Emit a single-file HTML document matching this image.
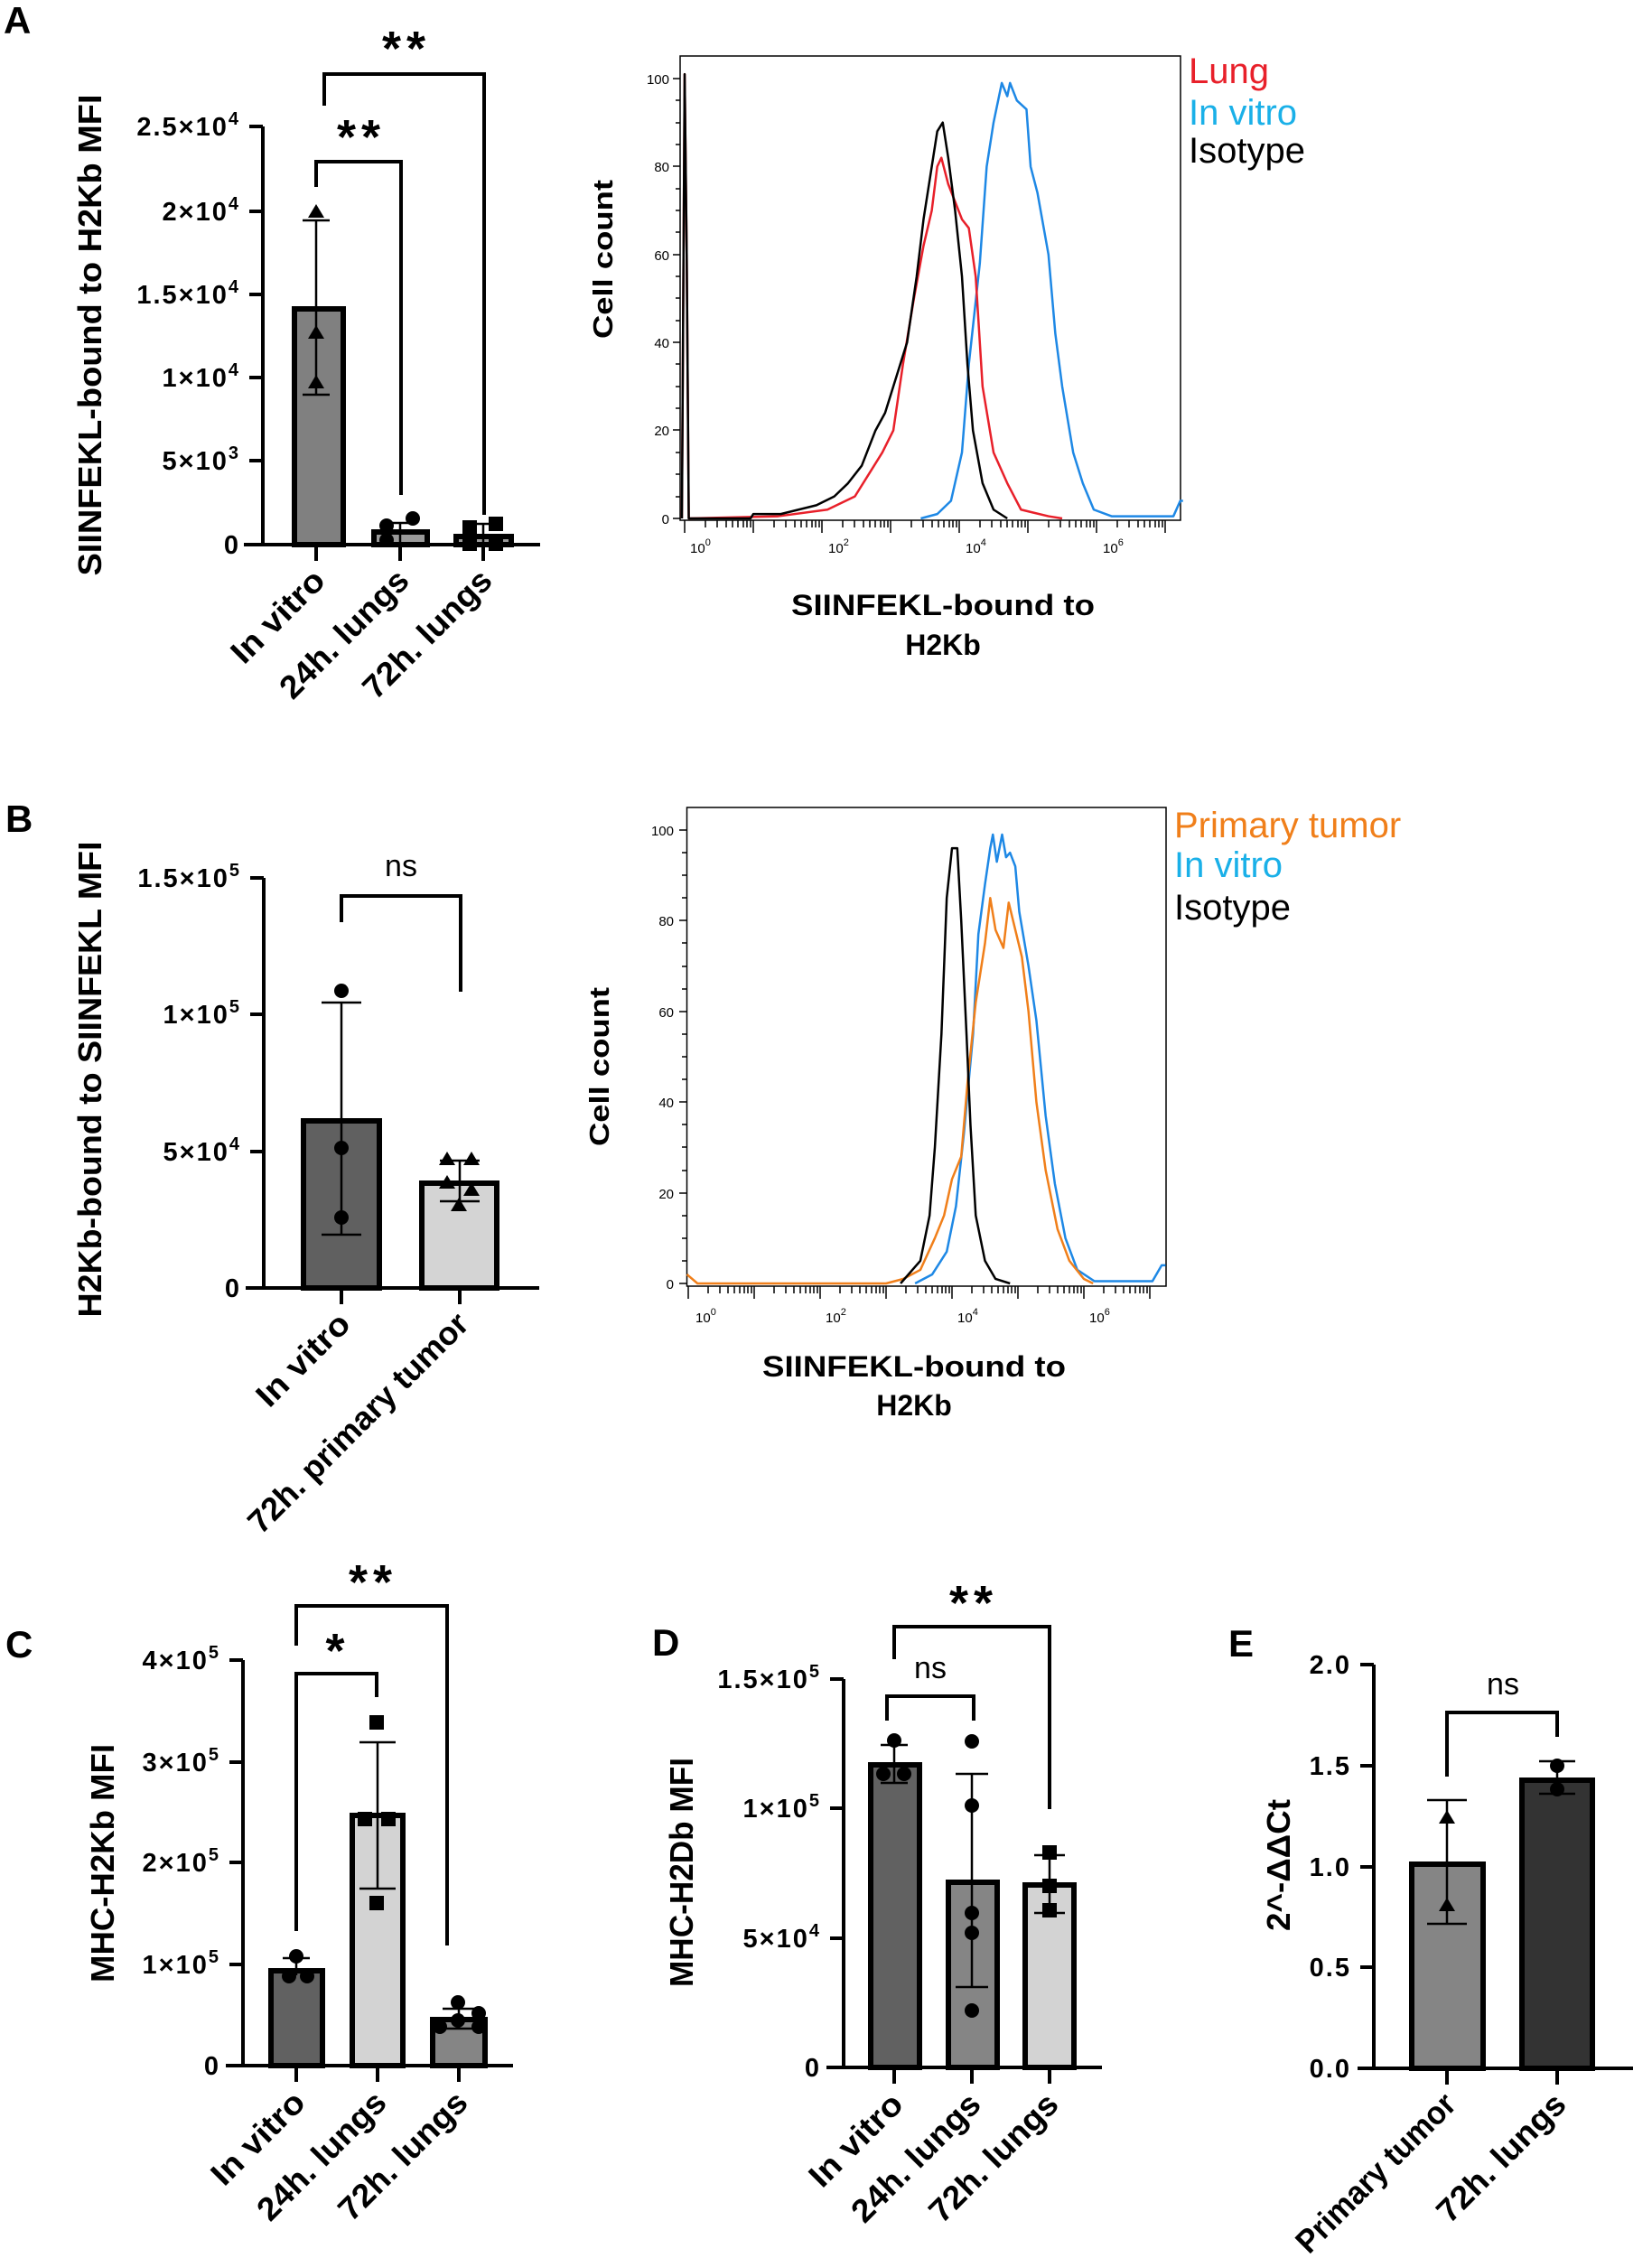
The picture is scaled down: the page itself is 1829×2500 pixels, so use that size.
<!DOCTYPE html>
<html><head><meta charset="utf-8"><style>
html,body{margin:0;padding:0;background:#fff}
svg{display:block}
text{font-family:"Liberation Sans",Arial,sans-serif}
.b{font-weight:bold}
.tk{font-weight:bold;font-size:29px;letter-spacing:2px}
.sup{font-size:20px}
.cat{font-weight:bold;font-size:36px}
.yl{font-weight:bold;font-size:36px}
.pl{font-weight:bold;font-size:42px}
.st{font-weight:bold;font-size:54px;letter-spacing:6px}
.ns{font-size:34px}
.ht{font-size:15px}
.leg{font-size:40px}
.hx{font-weight:bold;font-size:32px}
</style></head><body>
<svg width="1829" height="2500" viewBox="0 0 1829 2500" xmlns="http://www.w3.org/2000/svg">
<rect width="1829" height="2500" fill="#fff"/>

<!-- Panel labels -->
<text class="pl" x="4" y="37">A</text>
<text class="pl" x="6" y="921">B</text>
<text class="pl" x="6" y="1835">C</text>
<text class="pl" x="722" y="1833">D</text>
<text class="pl" x="1360" y="1834">E</text>

<!-- ============ A bar ============ -->
<g stroke="#000" fill="none" stroke-width="4">
<path d="M291,140 V603 M270,603 H598"/>
<path d="M276,140H291 M276,234H291 M276,326H291 M276,418H291 M276,510H291"/>
<path d="M350,603V621 M443,603V621 M535,603V621"/>
<path d="M359,117V82H536V570 M350,207V179H444V548"/>
</g>
<g class="tk" text-anchor="end">
<text x="266" y="150">2.5×10<tspan class="sup" dy="-12">4</tspan></text>
<text x="266" y="244">2×10<tspan class="sup" dy="-12">4</tspan></text>
<text x="266" y="336">1.5×10<tspan class="sup" dy="-12">4</tspan></text>
<text x="266" y="428">1×10<tspan class="sup" dy="-12">4</tspan></text>
<text x="266" y="520">5×10<tspan class="sup" dy="-12">3</tspan></text>
<text x="266" y="613">0</text>
</g>
<text class="yl" transform="translate(112,371) rotate(-90)" text-anchor="middle" textLength="533" lengthAdjust="spacingAndGlyphs">SIINFEKL-bound to H2Kb MFI</text>
<rect x="326" y="342" width="54" height="261" fill="#808080" stroke="#000" stroke-width="6"/>
<rect x="414" y="589" width="59" height="14" fill="#9a9a9a" stroke="#000" stroke-width="6"/>
<rect x="505" y="594" width="61" height="9" fill="#9a9a9a" stroke="#000" stroke-width="6"/>
<g stroke="#000" stroke-width="2.5">
<path d="M350,244V437 M335,244H365 M335,437H365"/>
<path d="M443,579V603 M430,579H456"/>
<path d="M535,580V603 M520,580H550"/>
</g>
<g fill="#000">
<path d="M350,226l9,15h-18z M350,360l9,15h-18z M350,415l9,15h-18z"/>
<circle cx="428" cy="582" r="8"/><circle cx="457" cy="574" r="8"/><circle cx="428" cy="598" r="8"/>
<rect x="512" y="576" width="16" height="16"/><rect x="541" y="572" width="16" height="16"/><rect x="512" y="594" width="16" height="16"/><rect x="541" y="594" width="16" height="16"/>
</g>
<text class="st" x="450" y="72" text-anchor="middle">**</text>
<text class="st" x="400" y="170" text-anchor="middle">**</text>
<g class="cat" text-anchor="end">
<text transform="translate(362,645) rotate(-45)" textLength="130" lengthAdjust="spacingAndGlyphs">In vitro</text>
<text transform="translate(455,645) rotate(-45)" textLength="185" lengthAdjust="spacingAndGlyphs">24h. lungs</text>
<text transform="translate(547,645) rotate(-45)" textLength="185" lengthAdjust="spacingAndGlyphs">72h. lungs</text>
</g>

<!-- ============ A histogram ============ -->
<rect x="753" y="62" width="554" height="514" fill="none" stroke="#000" stroke-width="1.5"/>
<g stroke="#000" stroke-width="1.5">
<path d="M753,574h-8 M753,476h-8 M753,379h-8 M753,282h-8 M753,184h-8 M753,87h-8"/>
<path d="M753,550h-5 M753,525h-5 M753,501h-5 M753,452h-5 M753,428h-5 M753,403h-5 M753,355h-5 M753,330h-5 M753,306h-5 M753,257h-5 M753,233h-5 M753,209h-5 M753,160h-5 M753,136h-5 M753,111h-5"/>
<path d="M758,576v14 M834,576v14 M910,576v14 M986,576v14 M1062,576v14 M1138,576v14 M1214,576v14 M1290,576v14"/>
<path d="M781,576v8M794,576v8M804,576v8M811,576v8M817,576v8M823,576v8M827,576v8M831,576v8
M857,576v8M870,576v8M880,576v8M887,576v8M893,576v8M899,576v8M903,576v8M907,576v8
M933,576v8M946,576v8M956,576v8M963,576v8M969,576v8M975,576v8M979,576v8M983,576v8
M1009,576v8M1022,576v8M1032,576v8M1039,576v8M1045,576v8M1051,576v8M1055,576v8M1059,576v8
M1085,576v8M1098,576v8M1108,576v8M1115,576v8M1121,576v8M1127,576v8M1131,576v8M1135,576v8
M1161,576v8M1174,576v8M1184,576v8M1191,576v8M1197,576v8M1203,576v8M1207,576v8M1211,576v8
M1237,576v8M1250,576v8M1260,576v8M1267,576v8M1273,576v8M1279,576v8M1283,576v8M1287,576v8"/>
</g>
<g class="ht" text-anchor="end">
<text x="741" y="580">0</text><text x="741" y="482">20</text><text x="741" y="385">40</text><text x="741" y="288">60</text><text x="741" y="190">80</text><text x="741" y="93">100</text>
</g>
<g class="ht">
<text x="764" y="612">10<tspan font-size="11" dy="-8">0</tspan></text>
<text x="917" y="612">10<tspan font-size="11" dy="-8">2</tspan></text>
<text x="1069" y="612">10<tspan font-size="11" dy="-8">4</tspan></text>
<text x="1221" y="612">10<tspan font-size="11" dy="-8">6</tspan></text>
</g>
<g transform="translate(758,574) scale(152,-4.87)" fill="none" stroke-width="2.5" stroke-linejoin="round">
<path vector-effect="non-scaling-stroke" stroke="#1e88e5" d="M1.72,0 L1.84,1 1.94,4 2.02,15 2.07,35 2.15,58 2.20,80 2.25,90 2.31,99 2.35,96 2.37,99 2.42,95 2.49,93 2.52,80 2.57,74 2.65,60 2.70,42 2.75,30 2.83,15 2.90,8 2.98,2 3.11,0.5 3.56,0.5 3.61,4 3.63,4"/>
<path vector-effect="non-scaling-stroke" stroke="#e8202a" d="M-0.02,0 L0,101 0.015,60 0.03,0 0.68,0.5 1.04,2 1.24,5 1.34,10 1.44,15 1.52,20 1.59,35 1.67,50 1.74,62 1.80,70 1.84,80 1.87,82 1.92,76 1.97,72 2.02,68 2.07,66 2.12,55 2.17,30 2.25,15 2.35,8 2.45,2 2.65,0.5 2.75,0"/>
<path vector-effect="non-scaling-stroke" stroke="#000" d="M-0.02,0 L0,101 0.015,60 0.03,0 0.48,0 0.50,1 0.70,1 0.83,2 0.96,3 1.09,5 1.19,8 1.29,12 1.39,20 1.46,24 1.54,32 1.62,40 1.69,55 1.74,68 1.80,80 1.84,88 1.88,90 1.92,82 1.97,70 2.02,55 2.06,35 2.10,20 2.17,8 2.25,2 2.35,0"/>
</g>
<text class="leg" x="1316" y="92" fill="#e8202a">Lung</text>
<text class="leg" x="1316" y="138" fill="#1ab0e8">In vitro</text>
<text class="leg" x="1316" y="180" fill="#000">Isotype</text>
<text class="b" font-size="31" transform="translate(678,287) rotate(-90)" text-anchor="middle" textLength="176" lengthAdjust="spacingAndGlyphs">Cell count</text>
<text class="hx" x="1044" y="681" text-anchor="middle" textLength="336" lengthAdjust="spacingAndGlyphs">SIINFEKL-bound to</text>
<text class="hx" x="1044" y="725" text-anchor="middle">H2Kb</text>

<!-- ============ B bar ============ -->
<g stroke="#000" fill="none" stroke-width="4">
<path d="M292,972V1426 M272,1426H597"/>
<path d="M277,972H292 M277,1123H292 M277,1275H292"/>
<path d="M378,1426V1444 M509,1426V1444"/>
<path d="M378,1021V992H510V1098"/>
</g>
<g class="tk" text-anchor="end">
<text x="267" y="982">1.5×10<tspan class="sup" dy="-12">5</tspan></text>
<text x="267" y="1133">1×10<tspan class="sup" dy="-12">5</tspan></text>
<text x="267" y="1285">5×10<tspan class="sup" dy="-12">4</tspan></text>
<text x="267" y="1436">0</text>
</g>
<text class="yl" transform="translate(112,1195) rotate(-90)" text-anchor="middle" textLength="527" lengthAdjust="spacingAndGlyphs">H2Kb-bound to SIINFEKL MFI</text>
<rect x="336" y="1241" width="84" height="185" fill="#606060" stroke="#000" stroke-width="6"/>
<rect x="467" y="1310" width="83" height="116" fill="#d4d4d4" stroke="#000" stroke-width="6"/>
<g stroke="#000" stroke-width="2.5">
<path d="M378,1110V1367 M356,1110H400 M356,1367H400"/>
<path d="M509,1285V1330 M487,1285H531 M487,1330H531"/>
</g>
<g fill="#000">
<circle cx="378" cy="1097" r="8"/><circle cx="378" cy="1271" r="8"/><circle cx="378" cy="1348" r="8"/>
<path d="M495,1275l9,15h-18z M522,1275l9,15h-18z M495,1301l9,15h-18z M522,1309l9,15h-18z M508,1326l9,15h-18z"/>
</g>
<text class="ns" x="444" y="970" text-anchor="middle">ns</text>
<g class="cat" text-anchor="end">
<text transform="translate(390,1468) rotate(-45)" textLength="130" lengthAdjust="spacingAndGlyphs">In vitro</text>
<text transform="translate(521,1468) rotate(-45)" textLength="328" lengthAdjust="spacingAndGlyphs">72h. primary tumor</text>
</g>

<!-- ============ B histogram ============ -->
<rect x="760.5" y="894" width="530.5" height="530" fill="none" stroke="#000" stroke-width="1.5"/>
<g stroke="#000" stroke-width="1.5">
<path d="M760,1421h-8 M760,1321h-8 M760,1220h-8 M760,1120h-8 M760,1019h-8 M760,919h-8"/>
<path d="M760,1396h-5M760,1371h-5M760,1346h-5M760,1296h-5M760,1270h-5M760,1245h-5M760,1195h-5M760,1170h-5M760,1145h-5M760,1095h-5M760,1070h-5M760,1044h-5M760,994h-5M760,969h-5M760,944h-5"/>
<path d="M762,1424v14 M835,1424v14 M908,1424v14 M981,1424v14 M1054,1424v14 M1127,1424v14 M1200,1424v14 M1273,1424v14"/>
<path d="M784,1424v8M797,1424v8M806,1424v8M813,1424v8M819,1424v8M824,1424v8M828,1424v8M832,1424v8
M857,1424v8M870,1424v8M879,1424v8M886,1424v8M892,1424v8M897,1424v8M901,1424v8M905,1424v8
M930,1424v8M943,1424v8M952,1424v8M959,1424v8M965,1424v8M970,1424v8M974,1424v8M978,1424v8
M1003,1424v8M1016,1424v8M1025,1424v8M1032,1424v8M1038,1424v8M1043,1424v8M1047,1424v8M1051,1424v8
M1076,1424v8M1089,1424v8M1098,1424v8M1105,1424v8M1111,1424v8M1116,1424v8M1120,1424v8M1124,1424v8
M1149,1424v8M1162,1424v8M1171,1424v8M1178,1424v8M1184,1424v8M1189,1424v8M1193,1424v8M1197,1424v8
M1222,1424v8M1235,1424v8M1244,1424v8M1251,1424v8M1257,1424v8M1262,1424v8M1266,1424v8M1270,1424v8"/>
</g>
<g class="ht" text-anchor="end">
<text x="746" y="1427">0</text><text x="746" y="1327">20</text><text x="746" y="1226">40</text><text x="746" y="1126">60</text><text x="746" y="1025">80</text><text x="746" y="925">100</text>
</g>
<g class="ht">
<text x="770" y="1464">10<tspan font-size="11" dy="-8">0</tspan></text>
<text x="914" y="1464">10<tspan font-size="11" dy="-8">2</tspan></text>
<text x="1060" y="1464">10<tspan font-size="11" dy="-8">4</tspan></text>
<text x="1206" y="1464">10<tspan font-size="11" dy="-8">6</tspan></text>
</g>
<g transform="translate(762,1421) scale(146,-5.02)" fill="none" stroke-width="2.5" stroke-linejoin="round">
<path vector-effect="non-scaling-stroke" stroke="#1e88e5" d="M1.72,0 L1.85,2 1.96,7 2.03,17 2.09,33 2.16,55 2.20,77 2.25,88 2.29,96 2.31,99 2.34,93 2.38,99 2.41,94 2.44,95 2.48,92 2.51,82 2.58,70 2.64,58 2.71,37 2.78,22 2.86,10 2.95,3 3.08,0.5 3.52,0.5 3.59,4 3.62,4"/>
<path vector-effect="non-scaling-stroke" stroke="#f07f1a" d="M-0.01,2 L0.07,0 1.50,0 1.63,1 1.76,3 1.87,10 1.94,15 2.00,23 2.07,28 2.12,45 2.18,62 2.25,75 2.29,85 2.33,78 2.39,74 2.43,84 2.48,78 2.53,72 2.58,60 2.64,40 2.71,25 2.80,12 2.89,5 3.00,1 3.07,0"/>
<path vector-effect="non-scaling-stroke" stroke="#000" d="M1.61,0 L1.76,5 1.83,15 1.87,30 1.92,55 1.96,85 2.00,96 2.04,96 2.07,80 2.11,55 2.14,35 2.18,15 2.25,5 2.33,1 2.44,0"/>
</g>
<text class="leg" x="1300" y="927" fill="#f07f1a">Primary tumor</text>
<text class="leg" x="1300" y="971" fill="#1ab0e8">In vitro</text>
<text class="leg" x="1300" y="1018" fill="#000">Isotype</text>
<text class="b" font-size="31" transform="translate(674,1181) rotate(-90)" text-anchor="middle" textLength="176" lengthAdjust="spacingAndGlyphs">Cell count</text>
<text class="hx" x="1012" y="1524" text-anchor="middle" textLength="336" lengthAdjust="spacingAndGlyphs">SIINFEKL-bound to</text>
<text class="hx" x="1012" y="1567" text-anchor="middle">H2Kb</text>

<!-- ============ C ============ -->
<g stroke="#000" fill="none" stroke-width="4">
<path d="M269,1838V2287 M250,2287H568"/>
<path d="M254,1838H269 M254,1951H269 M254,2062H269 M254,2175H269"/>
<path d="M328,2287V2305 M418,2287V2305 M508,2287V2305"/>
<path d="M328,1822V1778H495V2154 M328,2138V1853H417V1879"/>
</g>
<g class="tk" text-anchor="end">
<text x="244" y="1848">4×10<tspan class="sup" dy="-12">5</tspan></text>
<text x="244" y="1961">3×10<tspan class="sup" dy="-12">5</tspan></text>
<text x="244" y="2072">2×10<tspan class="sup" dy="-12">5</tspan></text>
<text x="244" y="2185">1×10<tspan class="sup" dy="-12">5</tspan></text>
<text x="244" y="2297">0</text>
</g>
<text class="yl" transform="translate(126,2063) rotate(-90)" text-anchor="middle" textLength="264" lengthAdjust="spacingAndGlyphs">MHC-H2Kb MFI</text>
<rect x="300" y="2182" width="57" height="105" fill="#616161" stroke="#000" stroke-width="6"/>
<rect x="390" y="2010" width="56" height="277" fill="#d3d3d3" stroke="#000" stroke-width="6"/>
<rect x="479" y="2236" width="58" height="51" fill="#858585" stroke="#000" stroke-width="6"/>
<g stroke="#000" stroke-width="2.5">
<path d="M328,2168V2187 M313,2168H343"/>
<path d="M418,1929V2091 M398,1929H438 M398,2091H438"/>
<path d="M508,2224V2246 M490,2224H526 M490,2246H526"/>
</g>
<g fill="#000">
<circle cx="328" cy="2166" r="8"/><circle cx="320" cy="2188" r="8"/><circle cx="340" cy="2188" r="8"/>
<rect x="409" y="1899" width="16" height="16"/><rect x="396" y="2006" width="16" height="16"/><rect x="422" y="2006" width="16" height="16"/><rect x="409" y="2099" width="16" height="16"/>
<circle cx="507" cy="2217" r="8"/><circle cx="530" cy="2229" r="8"/><circle cx="507" cy="2237" r="8"/><circle cx="487" cy="2244" r="8"/><circle cx="530" cy="2244" r="8"/>
</g>
<text class="st" x="413" y="1770" text-anchor="middle">**</text>
<text class="st" x="374" y="1846" text-anchor="middle">*</text>
<g class="cat" text-anchor="end">
<text transform="translate(340,2330) rotate(-45)" textLength="130" lengthAdjust="spacingAndGlyphs">In vitro</text>
<text transform="translate(430,2330) rotate(-45)" textLength="185" lengthAdjust="spacingAndGlyphs">24h. lungs</text>
<text transform="translate(520,2330) rotate(-45)" textLength="185" lengthAdjust="spacingAndGlyphs">72h. lungs</text>
</g>

<!-- ============ D ============ -->
<g stroke="#000" fill="none" stroke-width="4">
<path d="M934,1859V2289 M915,2289H1220"/>
<path d="M919,1859H934 M919,2002H934 M919,2146H934"/>
<path d="M990,2289V2307 M1076,2289V2307 M1162,2289V2307"/>
<path d="M990,1837V1801H1162V2003 M982,1905V1878H1078V1905"/>
</g>
<g class="tk" text-anchor="end">
<text x="909" y="1869">1.5×10<tspan class="sup" dy="-12">5</tspan></text>
<text x="909" y="2012">1×10<tspan class="sup" dy="-12">5</tspan></text>
<text x="909" y="2156">5×10<tspan class="sup" dy="-12">4</tspan></text>
<text x="909" y="2299">0</text>
</g>
<text class="yl" transform="translate(767,2073) rotate(-90)" text-anchor="middle" textLength="254" lengthAdjust="spacingAndGlyphs">MHC-H2Db MFI</text>
<rect x="964" y="1954" width="54" height="335" fill="#616161" stroke="#000" stroke-width="6"/>
<rect x="1050" y="2084" width="54" height="205" fill="#858585" stroke="#000" stroke-width="6"/>
<rect x="1135" y="2087" width="54" height="202" fill="#d3d3d3" stroke="#000" stroke-width="6"/>
<g stroke="#000" stroke-width="2.5">
<path d="M990,1932V1974 M975,1932H1005 M975,1974H1005"/>
<path d="M1076,1964V2200 M1058,1964H1094 M1058,2200H1094"/>
<path d="M1162,2054V2118 M1145,2054H1179 M1145,2118H1179"/>
</g>
<g fill="#000">
<circle cx="990" cy="1927" r="8"/><circle cx="978" cy="1964" r="8"/><circle cx="1001" cy="1964" r="8"/>
<circle cx="1076" cy="1928" r="8"/><circle cx="1076" cy="1999" r="8"/><circle cx="1076" cy="2118" r="8"/><circle cx="1076" cy="2140" r="8"/><circle cx="1076" cy="2226" r="8"/>
<rect x="1154" y="2043" width="16" height="16"/><rect x="1154" y="2080" width="16" height="16"/><rect x="1154" y="2107" width="16" height="16"/>
</g>
<text class="st" x="1078" y="1793" text-anchor="middle">**</text>
<text class="ns" x="1030" y="1858" text-anchor="middle">ns</text>
<g class="cat" text-anchor="end">
<text transform="translate(1002,2332) rotate(-45)" textLength="130" lengthAdjust="spacingAndGlyphs">In vitro</text>
<text transform="translate(1088,2332) rotate(-45)" textLength="185" lengthAdjust="spacingAndGlyphs">24h. lungs</text>
<text transform="translate(1174,2332) rotate(-45)" textLength="185" lengthAdjust="spacingAndGlyphs">72h. lungs</text>
</g>

<!-- ============ E ============ -->
<g stroke="#000" fill="none" stroke-width="4">
<path d="M1521,1843V2290 M1503,2290H1808"/>
<path d="M1506,1843H1521 M1506,1955H1521 M1506,2067H1521 M1506,2178H1521"/>
<path d="M1602,2290V2308 M1724,2290V2308"/>
<path d="M1602,1967V1896H1724V1923"/>
</g>
<g class="tk" text-anchor="end">
<text x="1496" y="1853">2.0</text>
<text x="1496" y="1965">1.5</text>
<text x="1496" y="2077">1.0</text>
<text x="1496" y="2188">0.5</text>
<text x="1496" y="2300">0.0</text>
</g>
<text class="yl" transform="translate(1428,2065) rotate(-90)" text-anchor="middle" textLength="146" lengthAdjust="spacingAndGlyphs">2^-ΔΔCt</text>
<rect x="1563" y="2064" width="79" height="226" fill="#858585" stroke="#000" stroke-width="6"/>
<rect x="1685" y="1971" width="78" height="319" fill="#333333" stroke="#000" stroke-width="6"/>
<g stroke="#000" stroke-width="2.5">
<path d="M1602,1993V2130 M1580,1993H1624 M1580,2130H1624"/>
<path d="M1724,1950V1986 M1704,1950H1744 M1704,1986H1744"/>
</g>
<g fill="#000">
<path d="M1602,2004l9,15h-18z M1602,2101l9,15h-18z"/>
<circle cx="1724" cy="1955" r="8"/><circle cx="1724" cy="1981" r="8"/>
</g>
<text class="ns" x="1664" y="1876" text-anchor="middle">ns</text>
<g class="cat" text-anchor="end">
<text transform="translate(1614,2332) rotate(-45)" textLength="233" lengthAdjust="spacingAndGlyphs">Primary tumor</text>
<text transform="translate(1736,2332) rotate(-45)" textLength="185" lengthAdjust="spacingAndGlyphs">72h. lungs</text>
</g>
</svg>
</body></html>
